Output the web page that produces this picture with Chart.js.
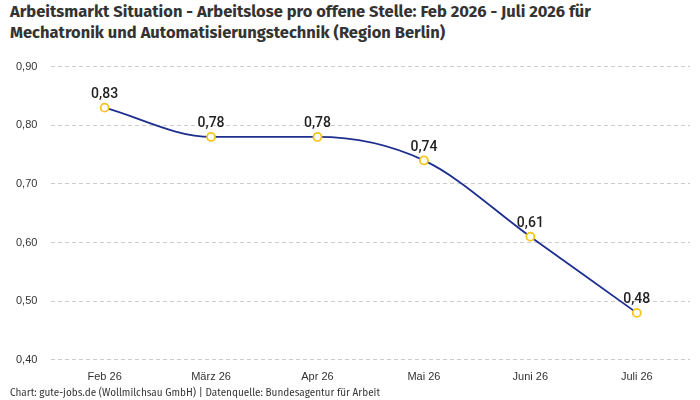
<!DOCTYPE html>
<html><head><meta charset="utf-8">
<script src="https://cdn.jsdelivr.net/npm/chart.js@4"></script>
<style>
  body { margin:0; width:700px; height:400px; background:#fff; font-family:"Fira Sans","Roboto",sans-serif; position:relative; overflow:hidden; }
  #title { position:absolute; left:10px; top:1px; font-size:16.5px; font-weight:bold; color:#333; line-height:21px; }
  #wrap { position:absolute; left:0; top:46px; width:700px; height:341px; }
  #foot { position:absolute; left:10px; top:387px; font-size:10px; color:#333; }
</style></head>
<body>
<div id="title">Arbeitsmarkt Situation - Arbeitslose pro offene Stelle: Feb 2026 - Juli 2026 für<br>Mechatronik und Automatisierungstechnik (Region Berlin)</div>
<div id="wrap"><canvas id="c"></canvas></div>
<div id="foot">Chart: gute-jobs.de (Wollmilchsau GmbH) | Datenquelle: Bundesagentur für Arbeit</div>
<script>
const months = ['Feb 26', 'März 26', 'Apr 26', 'Mai 26', 'Juni 26', 'Juli 26'];
const ratio = [0.83, 0.78, 0.78, 0.74, 0.61, 0.48];
const fmt = v => v.toFixed(2).replace('.', ',');

// Werte über den Punkten
const labelPlugin = {
  id: 'labels',
  afterDatasetsDraw(chart) {
    const ctx = chart.ctx;
    const meta = chart.getDatasetMeta(0);
    ctx.save();
    ctx.font = '500 14px Roboto, sans-serif';
    ctx.fillStyle = '#222';
    ctx.textAlign = 'center';
    ctx.textBaseline = 'bottom';
    meta.data.forEach((p, i) => ctx.fillText(fmt(ratio[i]), p.x, p.y - 6));
    ctx.restore();
  }
};

new Chart(document.getElementById('c'), {
  type: 'line',
  data: {
    labels: months,
    datasets: [{
      data: ratio,
      borderColor: '#1f2f8f',
      borderWidth: 1.8,
      cubicInterpolationMode: 'monotone',
      pointRadius: 4,
      pointBorderWidth: 1.8,
      pointBorderColor: '#f5c518',
      pointBackgroundColor: '#fff'
    }]
  },
  options: {
    responsive: true, maintainAspectRatio: false, animation: false,
    layout: { padding: { left: 2, right: 10, top: 20, bottom: 0 } },
    plugins: { legend: { display: false }, tooltip: { enabled: false } },
    scales: {
      x: {
        offset: true,
        grid: { display: false },
        border: { display: false },
        ticks: { color: '#333', font: { size: 11 } }
      },
      y: {
        min: 0.4, max: 0.9,
        grid: { color: '#ccc', drawTicks: false },
        border: { display: false, dash: [4, 3] },
        ticks: { stepSize: 0.1, color: '#333', font: { size: 11 }, padding: 14, callback: v => fmt(v) }
      }
    }
  },
  plugins: [labelPlugin]
});
</script>
</body></html>
